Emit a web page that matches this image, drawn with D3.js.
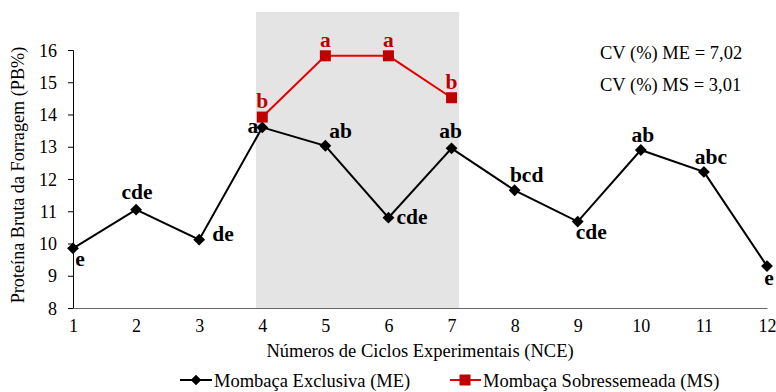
<!DOCTYPE html>
<html>
<head>
<meta charset="utf-8">
<script src="https://cdn.jsdelivr.net/npm/d3@7"></script>
<style>
  body { margin: 0; background: #fff; }
</style>
</head>
<body>
<div id="chart"></div>
<script>
// dados
const ciclos = [1, 2, 3, 4, 5, 6, 7, 8, 9, 10, 11, 12]
const valoresME = [9.85, 11.05, 10.12, 13.6, 13.03, 10.8, 12.95, 11.65, 10.68, 12.9, 12.22, 9.3]
const letrasME = ['e', 'cde', 'de', 'a', 'ab', 'cde', 'ab', 'bcd', 'cde', 'ab', 'abc', 'e']
const ciclosMS = [4, 5, 6, 7]
const valoresMS = [13.92, 15.82, 15.82, 14.52]
const letrasMS = ['b', 'a', 'a', 'b']
const yTicks = [8, 9, 10, 11, 12, 13, 14, 15, 16]
const faixa = [3.9, 7.12] // período de sobressemeadura

const FONTE = '"Liberation Serif", "Times New Roman", serif'
const W = 776
const H = 392
const svg = d3.select('#chart').append('svg')
  .attr('width', W)
  .attr('height', H)

const x = d3.scaleLinear().domain([1, 12]).range([73, 767])
const y = d3.scaleLinear().domain([8, 16]).range([308, 50])

// faixa cinza
svg.append('rect')
  .attr('x', x(faixa[0]))
  .attr('width', x(faixa[1]) - x(faixa[0]))
  .attr('y', 12)
  .attr('height', y(8) - 12)
  .attr('fill', '#e4e4e4')

// eixo y
const gy = svg.append('g')
  .attr('transform', 'translate(73,0)')
  .call(d3.axisLeft(y).tickValues(yTicks).tickSize(5).tickPadding(11))
gy.select('.domain').attr('stroke', '#000')
gy.selectAll('.tick line').attr('stroke', '#000')
gy.selectAll('.tick text').attr('fill', '#000').attr('dy', '0.34em')
  .style('font-family', FONTE).style('font-size', '18px')

// eixo x
const gx = svg.append('g')
  .attr('transform', 'translate(0,308)')
  .call(d3.axisBottom(x).tickValues(ciclos).tickSize(0).tickPadding(11).tickFormat(d3.format('d')))
gx.select('.domain').attr('stroke', '#666')
gx.selectAll('.tick text').attr('fill', '#000')
  .style('font-family', FONTE).style('font-size', '18px')

// títulos
svg.append('text')
  .attr('x', x(6.5))
  .attr('y', 357)
  .attr('text-anchor', 'middle')
  .style('font-family', FONTE).style('font-size', '18.5px')
  .text('Números de Ciclos Experimentais (NCE)')

svg.append('text')
  .attr('transform', 'translate(24,' + 175 + ') rotate(-90)')
  .attr('text-anchor', 'middle')
  .style('font-family', FONTE).style('font-size', '18.2px')
  .text('Proteína Bruta da Forragem (PB%)')

// CV
svg.append('text').attr('x', 600).attr('y', 59)
  .style('font-family', FONTE).style('font-size', '18.5px').text('CV (%) ME = 7,02')
svg.append('text').attr('x', 600).attr('y', 91)
  .style('font-family', FONTE).style('font-size', '18.5px').text('CV (%) MS = 3,01')

// linhas
const dadosME = ciclos.map((c, i) => ({ c: c, v: valoresME[i], l: letrasME[i] }))
const dadosMS = ciclosMS.map((c, i) => ({ c: c, v: valoresMS[i], l: letrasMS[i] }))
const linha = d3.line().x(d => x(d.c)).y(d => y(d.v))

svg.append('path')
  .datum(dadosME)
  .attr('d', linha)
  .attr('fill', 'none')
  .attr('stroke', '#000')
  .attr('stroke-width', 2)

svg.append('path')
  .datum(dadosMS)
  .attr('d', linha)
  .attr('fill', 'none')
  .attr('stroke', '#e60000')
  .attr('stroke-width', 2)

svg.append('g').selectAll('path')
  .data(dadosME)
  .enter()
  .append('path')
  .attr('transform', d => 'translate(' + x(d.c) + ',' + y(d.v) + ') rotate(45)')
  .attr('d', d3.symbol().type(d3.symbolSquare).size(70))
  .attr('fill', '#000')

svg.append('g').selectAll('rect')
  .data(dadosMS)
  .enter()
  .append('rect')
  .attr('x', d => x(d.c) - 5.5)
  .attr('y', d => y(d.v) - 5.5)
  .attr('width', 11)
  .attr('height', 11)
  .attr('fill', '#c00000')

// letras ME (posição relativa ao ponto)
const desloc = [
  [7, 18, 'middle'], [1, -11, 'middle'], [13, 1, 'start'], [-4, 6, 'end'],
  [4, -8, 'start'], [8, 6.5, 'start'], [-1, -10, 'middle'], [12, -8, 'middle'],
  [-2, 17, 'start'], [2, -8, 'middle'], [7, -8, 'middle'], [2, 19, 'middle']
]
svg.append('g').selectAll('text')
  .data(dadosME)
  .enter()
  .append('text')
  .attr('x', (d, i) => x(d.c) + desloc[i][0])
  .attr('y', (d, i) => y(d.v) + desloc[i][1])
  .attr('text-anchor', (d, i) => desloc[i][2])
  .attr('fill', '#000')
  .style('font-family', FONTE).style('font-size', '21.5px').style('font-weight', 'bold')
  .text(d => d.l)

svg.append('g').selectAll('text')
  .data(dadosMS)
  .enter()
  .append('text')
  .attr('x', d => x(d.c))
  .attr('y', d => y(d.v) - 9)
  .attr('text-anchor', 'middle')
  .attr('fill', '#c00000')
  .style('font-family', FONTE).style('font-size', '21.5px').style('font-weight', 'bold')
  .text(d => d.l)

// legenda
const leg = svg.append('g').attr('transform', 'translate(0,380)')
leg.append('line').attr('x1', 180).attr('x2', 212).attr('stroke', '#000').attr('stroke-width', 2)
leg.append('path').attr('transform', 'translate(196,0) rotate(45)')
  .attr('d', d3.symbol().type(d3.symbolSquare).size(57)).attr('fill', '#000')
leg.append('text').attr('x', 214).attr('y', 6.5)
  .style('font-family', FONTE).style('font-size', '18.5px').text('Mombaça Exclusiva (ME)')
leg.append('line').attr('x1', 450).attr('x2', 481).attr('stroke', '#e60000').attr('stroke-width', 2)
leg.append('rect').attr('x', 459.5).attr('y', -5.5).attr('width', 11).attr('height', 11).attr('fill', '#c00000')
leg.append('text').attr('x', 483).attr('y', 6.5)
  .style('font-family', FONTE).style('font-size', '18.5px').text('Mombaça Sobressemeada (MS)')
</script>
</body>
</html>
